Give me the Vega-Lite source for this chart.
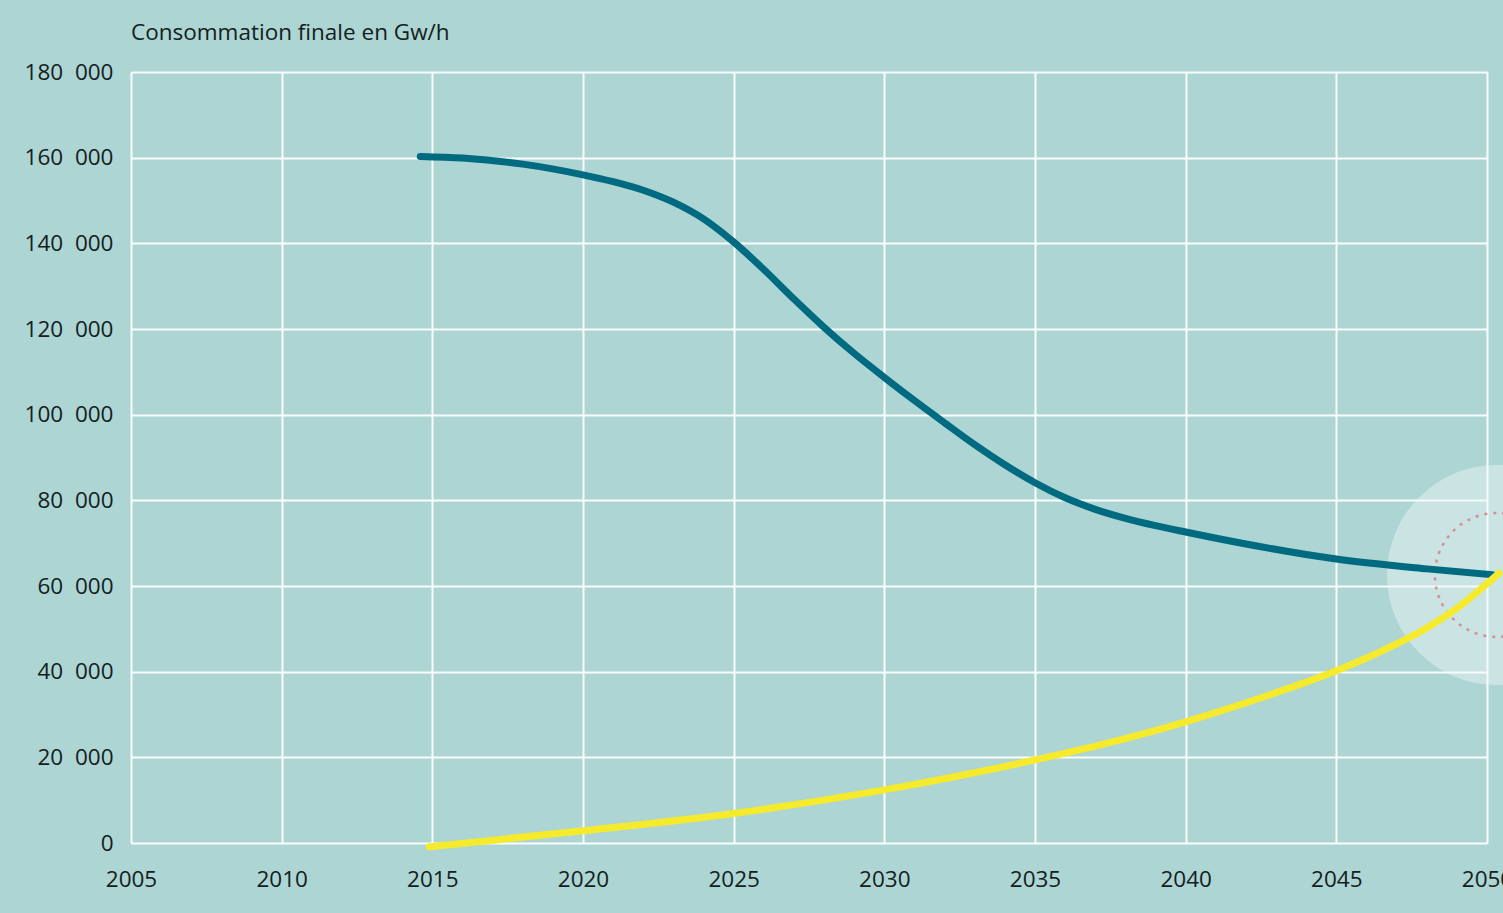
{
  "$schema": "https://vega.github.io/schema/vega-lite/v6.json",
  "width": 1356,
  "height": 771,
  "autosize": {"type": "none"},
  "padding": {"left": 131, "top": 72, "right": 16, "bottom": 70},
  "background": "#acd5d4",
  "title": {
    "text": "Consommation finale en Gw/h",
    "anchor": "start",
    "frame": "group",
    "font": "Open Sans",
    "fontSize": 22.5,
    "fontWeight": 500,
    "color": "#142020",
    "offset": 17
  },
  "config": {
    "view": {"stroke": null},
    "axis": {
      "labelFont": "Open Sans",
      "labelFontSize": 22.5,
      "labelFontWeight": 500,
      "labelColor": "#142020",
      "labelFlush": false,
      "labelOverlap": false,
      "grid": true,
      "gridColor": "#ffffff",
      "gridWidth": 2,
      "gridOpacity": 0.95,
      "domain": false,
      "ticks": false,
      "title": null
    }
  },
  "datasets": {
    "series": [
      {"serie": "consommation", "annee": 2014.6, "valeur": 160300},
      {"serie": "consommation", "annee": 2016, "valeur": 159900},
      {"serie": "consommation", "annee": 2018, "valeur": 158500},
      {"serie": "consommation", "annee": 2020, "valeur": 156000},
      {"serie": "consommation", "annee": 2021, "valeur": 154400},
      {"serie": "consommation", "annee": 2022, "valeur": 152400},
      {"serie": "consommation", "annee": 2023, "valeur": 149600},
      {"serie": "consommation", "annee": 2024, "valeur": 145700},
      {"serie": "consommation", "annee": 2025, "valeur": 140300},
      {"serie": "consommation", "annee": 2026, "valeur": 133900},
      {"serie": "consommation", "annee": 2027, "valeur": 127000},
      {"serie": "consommation", "annee": 2028, "valeur": 120400},
      {"serie": "consommation", "annee": 2029, "valeur": 114300},
      {"serie": "consommation", "annee": 2030, "valeur": 108700},
      {"serie": "consommation", "annee": 2031, "valeur": 103300},
      {"serie": "consommation", "annee": 2032, "valeur": 98100},
      {"serie": "consommation", "annee": 2033, "valeur": 93000},
      {"serie": "consommation", "annee": 2034, "valeur": 88300},
      {"serie": "consommation", "annee": 2035, "valeur": 84100},
      {"serie": "consommation", "annee": 2036, "valeur": 80600},
      {"serie": "consommation", "annee": 2037, "valeur": 77900},
      {"serie": "consommation", "annee": 2038, "valeur": 75800},
      {"serie": "consommation", "annee": 2039, "valeur": 74100},
      {"serie": "consommation", "annee": 2040, "valeur": 72600},
      {"serie": "consommation", "annee": 2042, "valeur": 69800},
      {"serie": "consommation", "annee": 2045, "valeur": 66300},
      {"serie": "consommation", "annee": 2048, "valeur": 64000},
      {"serie": "consommation", "annee": 2050.2, "valeur": 62600},
      {"serie": "renouvelable", "annee": 2014.9, "valeur": -900},
      {"serie": "renouvelable", "annee": 2020, "valeur": 2850},
      {"serie": "renouvelable", "annee": 2025, "valeur": 6900},
      {"serie": "renouvelable", "annee": 2030, "valeur": 12400},
      {"serie": "renouvelable", "annee": 2035, "valeur": 19400},
      {"serie": "renouvelable", "annee": 2037.5, "valeur": 23500},
      {"serie": "renouvelable", "annee": 2040, "valeur": 28300},
      {"serie": "renouvelable", "annee": 2042.5, "valeur": 33900},
      {"serie": "renouvelable", "annee": 2045, "valeur": 40200},
      {"serie": "renouvelable", "annee": 2046.5, "valeur": 44800},
      {"serie": "renouvelable", "annee": 2048, "valeur": 50200},
      {"serie": "renouvelable", "annee": 2049, "valeur": 54800},
      {"serie": "renouvelable", "annee": 2050.4, "valeur": 63000}
    ],
    "focus": [
      {"annee": 2050.33, "valeur": 62570}
    ]
  },
  "layer": [
    {
      "data": {"name": "focus"},
      "mark": {"type": "point", "shape": "circle", "filled": true, "color": "#eef7f7", "opacity": 0.45, "size": 48400, "clip": false},
      "encoding": {
        "x": {"field": "annee", "type": "quantitative", "scale": {"domain": [2005, 2050], "nice": false, "zero": false},
          "axis": {"values": [2005, 2010, 2015, 2020, 2025, 2030, 2035, 2040, 2045, 2050], "format": "d", "labelPadding": 25, "labelBaseline": "top"}},
        "y": {"field": "valeur", "type": "quantitative", "scale": {"domain": [0, 180000], "nice": false},
          "axis": {"values": [0, 20000, 40000, 60000, 80000, 100000, 120000, 140000, 160000, 180000], "labelPadding": 18,
            "labelExpr": "datum.value == 0 ? '0' : floor(datum.value / 1000) + '\u00a0\u00a0000'"}}
      }
    },
    {
      "data": {"name": "focus"},
      "mark": {"type": "point", "shape": "circle", "filled": false, "stroke": "#d4868c", "strokeWidth": 2.5, "strokeDash": [3, 6], "size": 15376, "opacity": 0.9, "clip": false},
      "encoding": {
        "x": {"field": "annee", "type": "quantitative"},
        "y": {"field": "valeur", "type": "quantitative"}
      }
    },
    {
      "data": {"name": "series"},
      "mark": {"type": "line", "interpolate": "monotone", "strokeWidth": 7, "strokeCap": "round", "clip": false},
      "encoding": {
        "x": {"field": "annee", "type": "quantitative"},
        "y": {"field": "valeur", "type": "quantitative"},
        "color": {"field": "serie", "type": "nominal", "scale": {"domain": ["consommation", "renouvelable"], "range": ["#006a80", "#f6ea2c"]}, "legend": null}
      }
    }
  ]
}
